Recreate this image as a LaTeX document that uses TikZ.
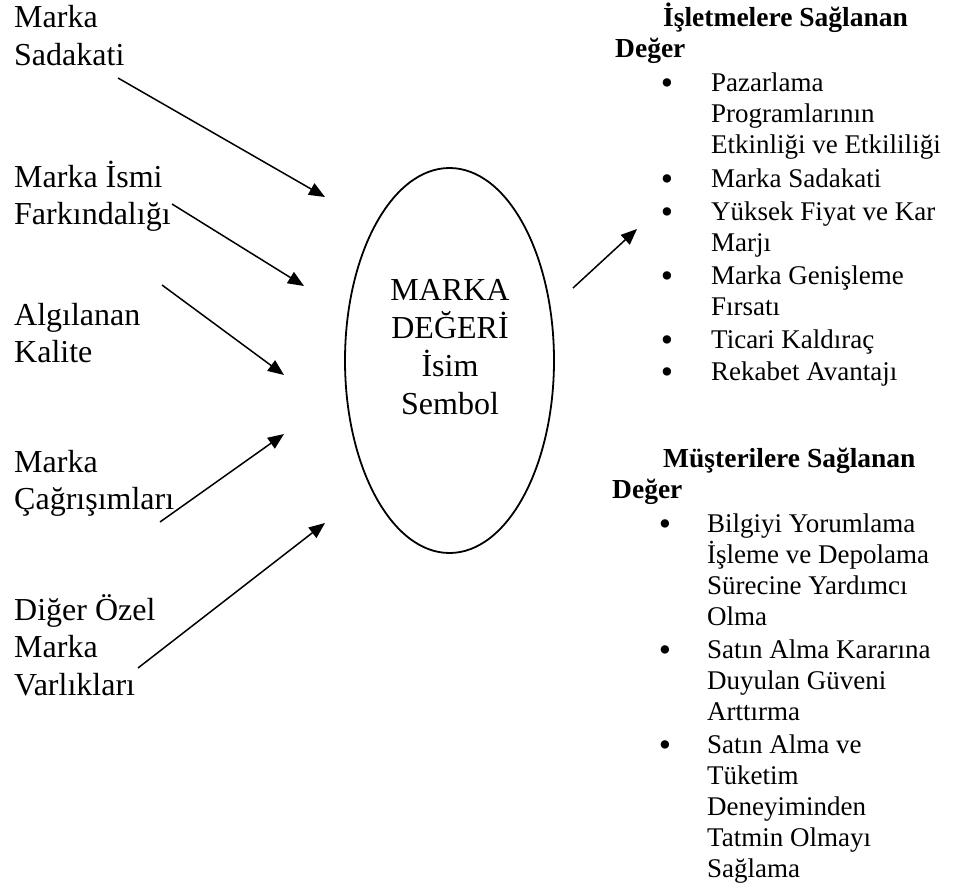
\documentclass[tikz,border=0pt]{standalone}
\usepackage{fontspec}
\setmainfont{Liberation Serif}
\usetikzlibrary{shapes.geometric,arrows.meta}
\newcommand{\mylines}[1]{\begin{tabular}[t]{@{}l@{}}#1\end{tabular}}
\newcommand{\mycentre}[1]{\begin{tabular}[t]{@{}c@{}}#1\end{tabular}}
\begin{document}
\begin{tikzpicture}[x=1pt,y=-1pt,
  lbl/.style={anchor=base west, inner sep=0pt, font=\fontsize{32}{37.5}\selectfont},
  itm/.style={anchor=base west, inner sep=0pt, font=\fontsize{27}{31}\selectfont},
  hd/.style={anchor=base west, inner sep=0pt, font=\fontsize{27.5}{31}\selectfont\bfseries},
  bul/.style={anchor=base, inner sep=0pt, yshift=-3pt, font=\fontsize{35}{35}\selectfont},
  arr/.style={-{Triangle[length=16pt,width=13pt]}, line width=1.5pt},
]
\useasboundingbox (0,0) rectangle (958,888);

% left labels
\node[lbl] (sad) at (14,28) {\mylines{Marka\\Sadakati}};
\node[lbl] (far) at (14,187) {\mylines{Marka İsmi\\Farkındalığı}};
\node[lbl] (alg) at (14,325) {\mylines{Algılanan\\Kalite}};
\node[lbl] (cag) at (14,472) {\mylines{Marka\\Çağrışımları}};
\node[lbl] (dig) at (14,620) {\mylines{Diğer Özel\\Marka\\Varlıkları}};

% central ellipse
\node[draw, ellipse, minimum width=209pt, minimum height=385pt, line width=1.8pt, inner sep=0pt] (md) at (449.5,360.5) {};
\node[anchor=base, inner sep=0pt, font=\fontsize{32}{38}\selectfont] (mdt) at (450,300) {\mycentre{MARKA\\DEĞERİ\\İsim\\Sembol}};

% arrow end points
\coordinate (s1) at (118,78);  \coordinate (e1) at (325,197);
\coordinate (s2) at (172,204); \coordinate (e2) at (304,286);
\coordinate (s3) at (162,285); \coordinate (e3) at (284,375);
\coordinate (s4) at (160,522); \coordinate (e4) at (284,434);
\coordinate (s5) at (138,668); \coordinate (e5) at (325,523);
\coordinate (s6) at (573,288); \coordinate (e6) at (637,229);

\draw[arr] (s1) -- (e1);
\draw[arr] (s2) -- (e2);
\draw[arr] (s3) -- (e3);
\draw[arr] (s4) -- (e4);
\draw[arr] (s5) -- (e5);
\draw[arr] (s6) -- (e6);

% right: businesses
\node[hd] (h1) at (615,27) {\mylines{\hspace*{48pt}İşletmelere Sağlanan\\Değer}};
\node[bul] (b1) at (667,92) {\textbullet};
\node[itm] (i1) at (711,92) {\mylines{Pazarlama\\Programlarının\\Etkinliği ve Etkililiği}};
\node[bul] (b2) at (667,187) {\textbullet};
\node[itm] (i2) at (711,187) {Marka Sadakati};
\node[bul] (b3) at (667,220) {\textbullet};
\node[itm] (i3) at (711,220) {\mylines{Yüksek Fiyat ve Kar\\Marjı}};
\node[bul] (b4) at (667,284) {\textbullet};
\node[itm] (i4) at (711,284) {\mylines{Marka Genişleme\\Fırsatı}};
\node[bul] (b5) at (667,348) {\textbullet};
\node[itm] (i5) at (711,348) {Ticari Kaldıraç};
\node[bul] (b6) at (667,380) {\textbullet};
\node[itm] (i6) at (711,380) {Rekabet Avantajı};

% right: customers
\node[hd] (h2) at (612,467) {\mylines{\hspace*{51pt}Müşterilere Sağlanan\\Değer}};
\node[bul] (c1) at (665,532) {\textbullet};
\node[itm] (j1) at (707,532) {\mylines{Bilgiyi Yorumlama\\İşleme ve Depolama\\Sürecine Yardımcı\\Olma}};
\node[bul] (c2) at (665,658) {\textbullet};
\node[itm] (j2) at (707,658) {\mylines{Satın Alma Kararına\\Duyulan Güveni\\Arttırma}};
\node[bul] (c3) at (665,753) {\textbullet};
\node[itm] (j3) at (707,753) {\mylines{Satın Alma ve\\Tüketim\\Deneyiminden\\Tatmin Olmayı\\Sağlama}};
\end{tikzpicture}
\end{document}
